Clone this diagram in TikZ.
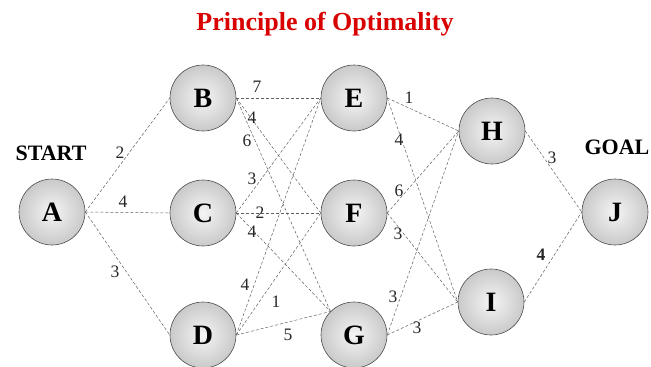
\documentclass[tikz,border=0pt]{standalone}
\usepackage{fontspec}
\setmainfont{Liberation Serif}
\begin{document}
\begin{tikzpicture}[x=1pt,y=-1pt,
  city/.style={circle, minimum size=66pt, inner sep=0pt, draw=gray!60!black, line width=0.6pt,
    shading=radial, inner color=gray!8, outer color=gray!42,
    font=\fontsize{28}{28}\selectfont\bfseries},
  road/.style={draw=gray!75!black, dash pattern=on 3pt off 2pt, line width=0.5pt},
  wt/.style={font=\fontsize{17.5}{17.5}\selectfont, inner sep=0pt, text=black!85},
  tag/.style={font=\fontsize{22}{22}\selectfont\bfseries, inner sep=0pt}]
\useasboundingbox (0,0) rectangle (651,367);
\node[font=\fontsize{26}{26}\selectfont\bfseries, text=red!85!black, inner sep=0pt] (title) at (325,24) {Principle of Optimality};
\node[tag] (start) at (51,153) {START};
\node[tag] (goal) at (617,147) {GOAL};
\node[city] (A) at (52,212) {A};
\node[city] (B) at (203,98) {B};
\node[city] (C) at (203,213) {C};
\node[city] (D) at (203,335) {D};
\node[city] (E) at (354,98) {E};
\node[city] (F) at (354,213) {F};
\node[city] (G) at (354,335) {G};
\node[city] (H) at (492,131) {H};
\node[city] (I) at (491,302) {I};
\node[city] (J) at (615,212) {J};
\draw[road] (A.east) -- (B.west);
\draw[road] (A.east) -- (C.west);
\draw[road] (A.east) -- (D.west);
\draw[road] (B.east) -- (E.west);
\draw[road] (B.east) -- (F.west);
\draw[road] (B.east) -- (G.north west);
\draw[road] (C.east) -- (E.west);
\draw[road] (C.east) -- (F.west);
\draw[road] (C.east) -- (G.north west);
\draw[road] (D.east) -- (E.west);
\draw[road] (D.east) -- (F.west);
\draw[road] (D.east) -- (G.north west);
\draw[road] (E.east) -- (H.west);
\draw[road] (E.east) -- (I.west);
\draw[road] (F.east) -- (H.west);
\draw[road] (F.east) -- (I.west);
\draw[road] (G.east) -- (H.west);
\draw[road] (G.east) -- (I.west);
\draw[road] (H.east) -- (J.west);
\draw[road] (I.east) -- (J.west);
\node[wt] (wAB) at (120,153) {2};
\node[wt] (wAC) at (123,202) {4};
\node[wt] (wAD) at (115,272) {3};
\node[wt] (wBE) at (257,87) {7};
\node[wt] (wBF) at (252,118) {4};
\node[wt] (wBG) at (247,141) {6};
\node[wt] (wCE) at (252,179) {3};
\node[wt] (wCF) at (260,213) {2};
\node[wt] (wCG) at (252,232) {4};
\node[wt] (wDE) at (245,285) {4};
\node[wt] (wDF) at (276,302) {1};
\node[wt] (wDG) at (288,335) {5};
\node[wt] (wEH) at (409,98) {1};
\node[wt] (wEI) at (399,140) {4};
\node[wt] (wFH) at (399,191) {6};
\node[wt] (wFI) at (398,234) {3};
\node[wt] (wGH) at (393,297) {3};
\node[wt] (wGI) at (417,328) {3};
\node[wt] (wHJ) at (552,158) {3};
\node[wt, font=\fontsize{17.5}{17.5}\selectfont\bfseries] (wIJ) at (541,255) {4};
\end{tikzpicture}
\end{document}
